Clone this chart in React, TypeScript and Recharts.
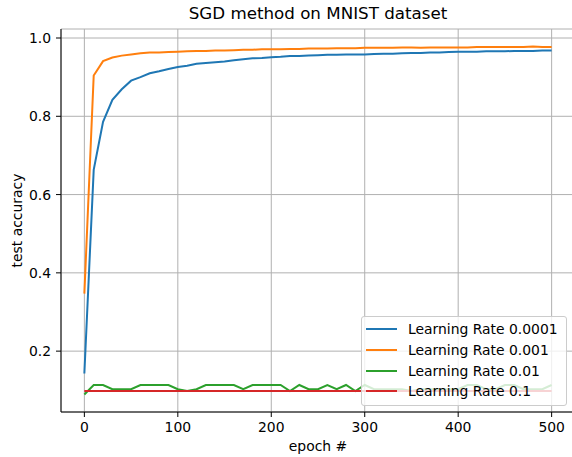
import { LineChart, Line, XAxis, YAxis, CartesianGrid, Legend } from 'recharts';

const epochs = [
  0, 10, 20, 30, 40, 50, 60, 70, 80, 90, 100, 110, 120, 130, 140, 150, 160, 170, 180, 190, 200,
  210, 220, 230, 240, 250, 260, 270, 280, 290, 300, 310, 320, 330, 340, 350, 360, 370, 380, 390, 400,
  410, 420, 430, 440, 450, 460, 470, 480, 490, 500,
];

const lr0001 = [
  0.143, 0.663, 0.786, 0.842, 0.869, 0.891, 0.9, 0.91, 0.915, 0.921, 0.926, 0.929, 0.934, 0.936, 0.938,
  0.94, 0.943, 0.946, 0.948, 0.949, 0.951, 0.952, 0.954, 0.954, 0.955, 0.956, 0.957, 0.957, 0.958, 0.958,
  0.958, 0.959, 0.96, 0.96, 0.961, 0.962, 0.962, 0.963, 0.963, 0.964, 0.965, 0.965, 0.965, 0.966, 0.966,
  0.966, 0.967, 0.967, 0.967, 0.968, 0.968,
];

const lr001 = [
  0.347, 0.904, 0.941, 0.95, 0.955, 0.958, 0.961, 0.963, 0.963, 0.964, 0.965, 0.966, 0.967, 0.967, 0.968,
  0.968, 0.969, 0.97, 0.97, 0.971, 0.971, 0.971, 0.972, 0.972, 0.973, 0.973, 0.973, 0.974, 0.974, 0.974,
  0.975, 0.975, 0.975, 0.975, 0.976, 0.976, 0.975, 0.976, 0.976, 0.976, 0.976, 0.976, 0.977, 0.977, 0.977,
  0.977, 0.977, 0.977, 0.978, 0.977, 0.977,
];

const lr01 = [
  0.0892, 0.1135, 0.1135, 0.1028, 0.1028, 0.1028, 0.1135, 0.1135, 0.1135, 0.1135, 0.1028, 0.098, 0.1028,
  0.1135, 0.1135, 0.1135, 0.1135, 0.1028, 0.1135, 0.1135, 0.1135, 0.1135, 0.098, 0.1135, 0.1028, 0.1028,
  0.1135, 0.1028, 0.1135, 0.098, 0.1135, 0.1028, 0.1028, 0.1028, 0.1028, 0.098, 0.1028, 0.1028, 0.1028,
  0.1028, 0.1028, 0.1135, 0.1135, 0.1028, 0.1028, 0.1135, 0.1135, 0.1028, 0.1028, 0.1028, 0.1135,
];

const lr1 = epochs.map(() => 0.098);

const xTicks = [0, 100, 200, 300, 400, 500];
const yTicks = [0.2, 0.4, 0.6, 0.8, 1.0];

const data = epochs.map((e, i) => ({
  epoch: e,
  a: lr0001[i],
  b: lr001[i],
  c: lr01[i],
  d: lr1[i],
}));

const FONT = 'DejaVu Sans, sans-serif';
const xDomain = [-25, 525];
const yDomain = [0.0445, 1.023];

function LegendBox({ payload }: any) {
  return (
    <div
      style={{
        width: 204,
        height: 86,
        background: 'rgba(255,255,255,0.8)',
        border: '1px solid #cccccc',
        borderRadius: 3,
        fontFamily: FONT,
        fontSize: 13.9,
        color: '#000',
        boxSizing: 'content-box',
        paddingTop: 2,
      }}
    >
      {(payload || []).map((p: any) => (
        <div key={p.value} style={{ display: 'flex', alignItems: 'center', height: 20.7 }}>
          <div style={{ width: 31, height: 2, background: p.color, marginLeft: 4, marginRight: 11 }} />
          <span style={{ whiteSpace: 'nowrap' }}>{p.value}</span>
        </div>
      ))}
    </div>
  );
}

export default function App() {
  const tickStyle = { fontSize: 13.9, fontFamily: FONT, fill: '#000' };
  return (
    <div style={{ position: 'absolute', left: 0, top: 0, width: 572, height: 457, background: '#fff', overflow: 'hidden' }}>
      <div
        style={{
          position: 'absolute',
          left: 61,
          width: 514,
          top: 3,
          textAlign: 'center',
          fontFamily: FONT,
          fontSize: 16.7,
          lineHeight: '20px',
          color: '#000',
          zIndex: 2,
        }}
      >
        SGD method on MNIST dataset
      </div>
      <LineChart width={572} height={457} data={data} margin={{ top: 29, right: -3, left: 0, bottom: 0 }}>
        <CartesianGrid stroke="#b0b0b0" strokeWidth={1} ticks={xTicks} />
        <XAxis
          dataKey="epoch"
          type="number"
          domain={xDomain}
          ticks={xTicks}
          allowDataOverflow
          height={45}
          tickSize={5}
          tickMargin={5}
          tick={tickStyle}
          stroke="#000"
          tickLine={{ stroke: '#000' }}
          axisLine={{ stroke: '#000' }}
          label={{ value: 'epoch #', position: 'insideBottom', offset: 6, style: { fontSize: 13.9, fontFamily: FONT, fill: '#000' } }}
        />
        <XAxis
          xAxisId="top"
          orientation="top"
          dataKey="epoch"
          type="number"
          domain={xDomain}
          allowDataOverflow
          height={0}
          tick={false}
          tickLine={false}
          axisLine={{ stroke: '#000' }}
        />
        <YAxis
          type="number"
          domain={yDomain}
          ticks={yTicks}
          allowDataOverflow
          width={61}
          tickSize={5}
          tickMargin={5}
          tick={tickStyle}
          tickFormatter={(v: number) => v.toFixed(1)}
          tickLine={{ stroke: '#000' }}
          axisLine={{ stroke: '#000' }}
          label={{ value: 'test accuracy', angle: -90, position: 'insideLeft', offset: 17, style: { fontSize: 13.9, fontFamily: FONT, fill: '#000', textAnchor: 'middle' } }}
        />
        <YAxis
          yAxisId="right"
          orientation="right"
          type="number"
          domain={yDomain}
          allowDataOverflow
          width={0}
          tick={false}
          tickLine={false}
          axisLine={{ stroke: '#000' }}
        />
        <Line dataKey="a" name="Learning Rate 0.0001" stroke="#1f77b4" strokeWidth={2} dot={false} isAnimationActive={false} />
        <Line dataKey="b" name="Learning Rate 0.001" stroke="#ff7f0e" strokeWidth={2} dot={false} isAnimationActive={false} />
        <Line dataKey="c" name="Learning Rate 0.01" stroke="#2ca02c" strokeWidth={2} dot={false} isAnimationActive={false} />
        <Line dataKey="d" name="Learning Rate 0.1" stroke="#d62728" strokeWidth={2} dot={false} isAnimationActive={false} />
        <Legend
          layout="vertical"
          align="center"
          verticalAlign="middle"
          content={<LegendBox />}
          wrapperStyle={{ position: 'absolute', left: 361, top: 316, width: 'auto', height: 'auto' }}
        />
      </LineChart>
    </div>
  );
}
